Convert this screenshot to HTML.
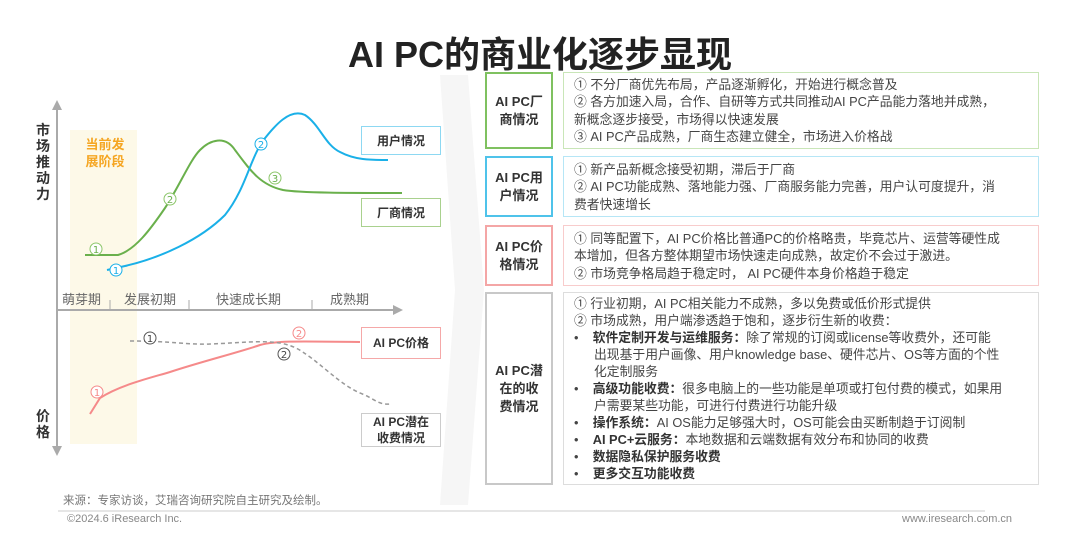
<!DOCTYPE html>
<html><head><meta charset="utf-8"><style>
body{margin:0;width:1080px;height:534px;background:#fff;position:relative;overflow:hidden;font-family:"Liberation Sans","Noto Sans CJK SC",sans-serif;color:#333}
.a{position:absolute}
.t{position:absolute;left:0;width:1080px;top:26px;text-align:center;font-size:36px;font-weight:bold;color:#222}
.lb{position:absolute;left:485px;width:68px;border:2px solid;display:flex;align-items:center;justify-content:center;text-align:center;font-size:13px;font-weight:bold;line-height:18px;color:#333;box-sizing:border-box}
.rb{position:absolute;left:563px;width:476px;border:1px solid;box-sizing:border-box;padding:3px 10px 0 10px;font-size:12.8px;line-height:17.3px;color:#444;white-space:nowrap}
.bl{padding-left:20px;text-indent:-20px}
.bl b{color:#333}
.cb{position:absolute;left:361px;width:80px;border:1.5px solid;box-sizing:border-box;display:flex;align-items:center;justify-content:center;text-align:center;font-size:12px;font-weight:bold;line-height:16px;color:#333;background:#fff}
</style></head><body>
<div class="t">AI PC的商业化逐步显现</div>
<svg class="a" style="left:0;top:0" width="1080" height="534">
<polygon points="440,75 468,75 484,290 468,505 440,505 455,290" fill="#f6f6f6"/>
<rect x="70" y="130" width="67" height="314" fill="#fdf9e8"/>
<line x1="57" y1="108" x2="57" y2="450" stroke="#aaa" stroke-width="2"/>
<polygon points="52,110 62,110 57,100" fill="#aaa"/>
<polygon points="52,446 62,446 57,456" fill="#aaa"/>
<line x1="57" y1="310" x2="395" y2="310" stroke="#aaa" stroke-width="2"/>
<polygon points="393,305 403,310 393,315" fill="#aaa"/>
<g stroke="#aaa" stroke-width="1"><line x1="110" y1="300" x2="110" y2="310"/><line x1="189" y1="300" x2="189" y2="310"/><line x1="312" y1="300" x2="312" y2="310"/></g>
<g font-size="13" fill="#666" font-family="Liberation Sans,Noto Sans CJK SC,sans-serif"><text x="62" y="304">萌芽期</text><text x="124" y="304">发展初期</text><text x="216" y="304">快速成长期</text><text x="330" y="304">成熟期</text></g>
<path d="M85,255 L118,255 C135,250 150,230 165,208 C180,185 190,160 200,150 C210,140 225,135 235,150 C250,170 260,185 283,190 C300,193 350,193 402,193" fill="none" stroke="#6ab04c" stroke-width="2"/>
<path d="M107,270 L125,266 C160,258 200,240 225,215 C245,190 250,160 262,142 C275,125 290,108 305,115 C320,125 325,145 340,152 C355,160 370,160 388,160" fill="none" stroke="#1ab0e8" stroke-width="2"/>
<path d="M90,414 L100,398 C120,385 150,378 170,372 C200,362 240,352 260,345 C275,341 290,341 360,342" fill="none" stroke="#f58a8a" stroke-width="2"/>
<path d="M130,341 C170,341 190,345 210,344 C240,343 260,340 280,343 C295,346 300,350 310,357 C330,372 345,388 365,395 C375,400 380,405 390,404" fill="none" stroke="#999" stroke-width="1.5" stroke-dasharray="4,3"/>
<g font-size="10" text-anchor="middle" font-family="DejaVu Sans,sans-serif">
<circle cx="96" cy="249" r="6" fill="#fff" stroke="#8cc66a"/><text x="96" y="253" fill="#6ab04c">1</text>
<circle cx="170" cy="199" r="6" fill="#fff" stroke="#8cc66a"/><text x="170" y="203" fill="#6ab04c">2</text>
<circle cx="275" cy="178" r="6" fill="#fff" stroke="#8cc66a"/><text x="275" y="182" fill="#6ab04c">3</text>
<circle cx="116" cy="270" r="6" fill="#fff" stroke="#1ab0e8"/><text x="116" y="274" fill="#1ab0e8">1</text>
<circle cx="261" cy="144" r="6" fill="#fff" stroke="#1ab0e8"/><text x="261" y="148" fill="#1ab0e8">2</text>
<circle cx="97" cy="392" r="6" fill="#fff" stroke="#f58a8a"/><text x="97" y="396" fill="#f58a8a">1</text>
<circle cx="299" cy="333" r="6" fill="#fff" stroke="#f58a8a"/><text x="299" y="337" fill="#f58a8a">2</text>
<circle cx="150" cy="338" r="6" fill="#fff" stroke="#555"/><text x="150" y="342" fill="#444">1</text>
<circle cx="284" cy="354" r="6" fill="#fff" stroke="#555"/><text x="284" y="358" fill="#444">2</text>
</g>
<line x1="58" y1="511" x2="985" y2="511" stroke="#ccc" stroke-width="1"/>
</svg>
<div class="a" style="left:80px;top:136px;font-size:13px;font-weight:bold;color:#f5a623;line-height:17px;width:50px;text-align:center">当前发展阶段</div>
<div class="a" style="left:36px;top:122px;font-size:14px;font-weight:bold;line-height:16px;width:15px">市场推动力</div>
<div class="a" style="left:36px;top:408px;font-size:14px;font-weight:bold;line-height:16px;width:15px">价格</div>
<div class="cb" style="top:126px;height:29px;border-color:#8dd8f2">用户情况</div>
<div class="cb" style="top:198px;height:29px;border-color:#a9d18e">厂商情况</div>
<div class="cb" style="top:327px;height:32px;border-color:#f5a8a8">AI PC价格</div>
<div class="cb" style="top:413px;height:34px;border-color:#ccc">AI PC潜在<br>收费情况</div>
<div class="lb" style="top:72px;height:77px;border-color:#7fc160">AI PC厂<br>商情况</div>
<div class="rb" style="top:72px;height:77px;border-color:#c9e6b8">① 不分厂商优先布局，产品逐渐孵化，开始进行概念普及<br>② 各方加速入局，合作、自研等方式共同推动AI PC产品能力落地并成熟，<br>新概念逐步接受，市场得以快速发展<br>③ AI PC产品成熟，厂商生态建立健全，市场进入价格战</div>
<div class="lb" style="top:156px;height:61px;border-color:#4fc3ea">AI PC用<br>户情况</div>
<div class="rb" style="top:156px;height:61px;border-color:#b6e6f6;padding-top:4px">① 新产品新概念接受初期，滞后于厂商<br>② AI PC功能成熟、落地能力强、厂商服务能力完善，用户认可度提升，消<br>费者快速增长</div>
<div class="lb" style="top:225px;height:61px;border-color:#f4a6a6">AI PC价<br>格情况</div>
<div class="rb" style="top:225px;height:61px;border-color:#f8cccc;padding-top:4px">① 同等配置下，AI PC价格比普通PC的价格略贵，毕竟芯片、运营等硬性成<br>本增加，但各方整体期望市场快速走向成熟，故定价不会过于激进。<br>② 市场竞争格局趋于稳定时， AI PC硬件本身价格趋于稳定</div>
<div class="lb" style="top:292px;height:193px;border-color:#c8c8c8">AI PC潜<br>在的收<br>费情况</div>
<div class="rb" style="top:292px;height:193px;border-color:#ddd;line-height:17px;padding-top:2px">① 行业初期，AI PC相关能力不成熟，多以免费或低价形式提供<br>② 市场成熟，用户端渗透趋于饱和，逐步衍生新的收费：
<div class="bl">•&nbsp;&nbsp;&nbsp;&nbsp;<b>软件定制开发与运维服务：</b>除了常规的订阅或license等收费外，还可能<br>出现基于用户画像、用户knowledge base、硬件芯片、OS等方面的个性<br>化定制服务</div>
<div class="bl">•&nbsp;&nbsp;&nbsp;&nbsp;<b>高级功能收费：</b>很多电脑上的一些功能是单项或打包付费的模式，如果用<br>户需要某些功能，可进行付费进行功能升级</div>
<div class="bl">•&nbsp;&nbsp;&nbsp;&nbsp;<b>操作系统：</b>AI OS能力足够强大时，OS可能会由买断制趋于订阅制</div>
<div class="bl">•&nbsp;&nbsp;&nbsp;&nbsp;<b>AI PC+云服务：</b>本地数据和云端数据有效分布和协同的收费</div>
<div class="bl">•&nbsp;&nbsp;&nbsp;&nbsp;<b>数据隐私保护服务收费</b></div>
<div class="bl">•&nbsp;&nbsp;&nbsp;&nbsp;<b>更多交互功能收费</b></div></div>
<div class="a" style="left:63px;top:492px;font-size:11.5px;color:#777">来源：专家访谈，艾瑞咨询研究院自主研究及绘制。</div>
<div class="a" style="left:67px;top:513px;font-size:11px;color:#888">©2024.6 iResearch Inc.</div>
<div class="a" style="left:902px;top:513px;font-size:11px;color:#888">www.iresearch.com.cn</div>
</body></html>
